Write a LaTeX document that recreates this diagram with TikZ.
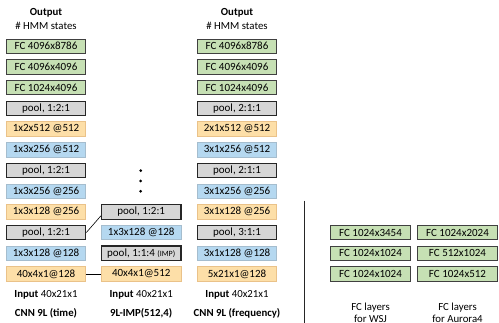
\documentclass[tikz,border=0pt]{standalone}
\usepackage{fontspec}
\setmainfont{Carlito}
\definecolor{fcgreen}{HTML}{C6E0B4}
\definecolor{poolgray}{HTML}{D6D6D6}
\definecolor{convorange}{HTML}{FDDFA8}
\definecolor{convblue}{HTML}{B5D8F0}
\begin{document}
\begin{tikzpicture}[x=1pt,y=-1pt,
  box/.style={minimum width=79.5pt,minimum height=14.5pt,inner sep=0pt,font=\fontsize{11}{12}\selectfont},
  fc/.style={box,fill=fcgreen,draw=black!75,line width=0.9pt},
  pl/.style={box,fill=poolgray,draw=black!85,line width=1.1pt},
  co/.style={box,fill=convorange,draw=convorange!70!brown,line width=0.7pt},
  cb/.style={box,fill=convblue,draw=convblue!70!gray,line width=0.7pt},
  lab/.style={font=\fontsize{10.8}{12}\selectfont,inner sep=0pt},
  blab/.style={font=\fontsize{10.8}{12}\selectfont\bfseries,inner sep=0pt}]
\useasboundingbox (0,0) rectangle (499,323);
\def\rowy#1{46.25+(#1-1)*20.7}
% column 1
\node[blab] (o1) at (46,13.3) {Output};
\node[lab] (h1) at (46,25.7) {\# HMM states};
\node[fc] (a1) at (46,{\rowy{1}}) {FC 4096x8786};
\node[fc] (a2) at (46,{\rowy{2}}) {FC 4096x4096};
\node[fc] (a3) at (46,{\rowy{3}}) {FC 1024x4096};
\node[pl] (a4) at (46,{\rowy{4}}) {pool, 1:2:1};
\node[co] (a5) at (46,{\rowy{5}}) {1x2x512 @512};
\node[cb] (a6) at (46,{\rowy{6}}) {1x3x256 @512};
\node[pl] (a7) at (46,{\rowy{7}}) {pool, 1:2:1};
\node[cb] (a8) at (46,{\rowy{8}}) {1x3x256 @256};
\node[co] (a9) at (46,{\rowy{9}}) {1x3x128 @256};
\node[pl] (a10) at (46,{\rowy{10}}) {pool, 1:2:1};
\node[cb] (a11) at (46,{\rowy{11}}) {1x3x128 @128};
\node[co] (a12) at (46,{\rowy{12}}) {40x4x1@128};
\node[lab] (i1) at (46,295) {\textbf{Input} 40x21x1};
\node[blab] (n1) at (46,313) {CNN 9L (time)};
% column 2
\fill (140.7,170.7) circle (1.5pt) (140.7,181) circle (1.5pt) (140.7,191.3) circle (1.5pt);
\node[pl] (b9) at (141.2,{\rowy{9}}) {pool, 1:2:1};
\node[cb] (b10) at (141.2,{\rowy{10}}) {1x3x128 @128};
\node[pl] (b11) at (141.2,{\rowy{11}}) {pool, 1:1:4 {\fontsize{8}{9}\selectfont(IMP)}};
\node[co] (b12) at (141.2,{\rowy{12}}) {40x4x1@512};
\node[lab] (i2) at (141.2,295) {\textbf{Input} 40x21x1};
\node[blab] (n2) at (141.2,313) {9L-IMP(512,4)};
\draw[line width=0.6pt] (a10.east) -- ([yshift=-4pt]b9.west);
\draw[line width=0.8pt] (a12.east) -- (b12.west);
% column 3
\node[blab] (o3) at (237,13.3) {Output};
\node[lab] (h3) at (237,25.7) {\# HMM states};
\node[fc] (c1) at (237,{\rowy{1}}) {FC 4096x8786};
\node[fc] (c2) at (237,{\rowy{2}}) {FC 4096x4096};
\node[fc] (c3) at (237,{\rowy{3}}) {FC 1024x4096};
\node[pl] (c4) at (237,{\rowy{4}}) {pool, 2:1:1};
\node[co] (c5) at (237,{\rowy{5}}) {2x1x512 @512};
\node[cb] (c6) at (237,{\rowy{6}}) {3x1x256 @512};
\node[pl] (c7) at (237,{\rowy{7}}) {pool, 2:1:1};
\node[cb] (c8) at (237,{\rowy{8}}) {3x1x256 @256};
\node[co] (c9) at (237,{\rowy{9}}) {3x1x128 @256};
\node[pl] (c10) at (237,{\rowy{10}}) {pool, 3:1:1};
\node[cb] (c11) at (237,{\rowy{11}}) {3x1x128 @128};
\node[co] (c12) at (237,{\rowy{12}}) {5x21x1@128};
\node[lab] (i3) at (237,295) {\textbf{Input} 40x21x1};
\node[blab] (n3) at (237,313) {CNN 9L (frequency)};
% separator
\coordinate (s1) at (304.3,200.7);
\coordinate (s2) at (304.3,330);
\draw[line width=0.9pt,black!85] (s1) -- (s2);
% FC layers
\node[fc] (w1) at (370.5,{\rowy{10}}) {FC 1024x3454};
\node[fc] (w2) at (370.5,{\rowy{11}}) {FC 1024x1024};
\node[fc] (w3) at (370.5,{\rowy{12}}) {FC 1024x1024};
\node[lab] (wl) at (370.5,307.7) {FC layers};
\node[lab] (wl2) at (370.5,318.5) {for WSJ};
\node[fc] (r1) at (457.5,{\rowy{10}}) {FC 1024x2024};
\node[fc] (r2) at (457.5,{\rowy{11}}) {FC 512x1024};
\node[fc] (r3) at (457.5,{\rowy{12}}) {FC 1024x512};
\node[lab] (rl) at (457.5,307.7) {FC layers};
\node[lab] (rl2) at (457.5,318.5) {for Aurora4};
\end{tikzpicture}
\end{document}
